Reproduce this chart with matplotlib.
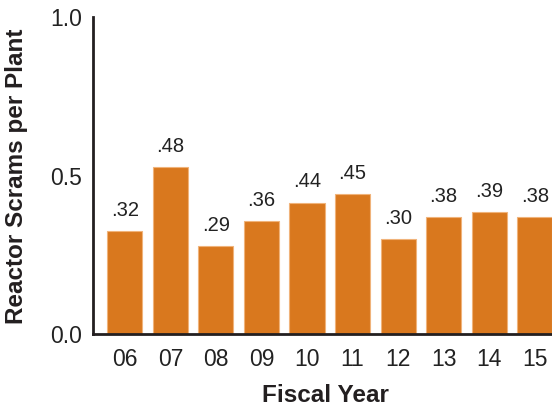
import matplotlib.pyplot as plt

years = ['06', '07', '08', '09', '10', '11', '12', '13', '14', '15']
# bar heights as drawn in the picture; printed labels are kept separately
heights = [0.326, 0.527, 0.279, 0.357, 0.415, 0.443, 0.30, 0.37, 0.385, 0.37]
labels = ['.32', '.48', '.29', '.36', '.44', '.45', '.30', '.38', '.39', '.38']

plt.rcParams['font.family'] = ['Liberation Sans', 'DejaVu Sans']

fig = plt.figure(figsize=(5.52, 4.07), dpi=100)
ax = fig.add_axes([0.1685, 0.179, 0.8315, 0.779])

x = range(len(years))
bars = ax.bar(x, heights, width=0.77, color='#D9781E', edgecolor='#F0B37A', linewidth=0.8)
for b, lab in zip(bars, labels):
    ax.text(b.get_x() + b.get_width() / 2, b.get_height() + 0.035, lab,
            ha='center', va='bottom', fontsize=14.5, color='#222222')

ax.set_xlim(-0.70, 9.38)
ax.set_ylim(0, 1.0)
ax.set_xticks(list(x))
ax.set_xticklabels(years)
ax.set_yticks([0.0, 0.5, 1.0])
ax.set_yticklabels(['0.0', '0.5', '1.0'])
ax.tick_params(axis='both', length=0, labelsize=16.5, colors='#222222')
ax.tick_params(axis='x', pad=10)
ax.tick_params(axis='y', pad=8)

for s in ['top', 'right']:
    ax.spines[s].set_visible(False)
for s in ['left', 'bottom']:
    ax.spines[s].set_linewidth(2)
    ax.spines[s].set_color('#231F20')

# axis titles placed in figure coords
fig.text(325 / 552, 1 - 396 / 407, 'Fiscal Year', fontsize=17.5, fontweight='bold',
         ha='center', va='center', color='#231F20')
fig.text(17 / 552, 1 - 176 / 407, 'Reactor Scrams per Plant', fontsize=17.5, fontweight='bold',
         rotation=90, ha='center', va='center', color='#231F20')

fig.savefig('out.png', dpi=100)
